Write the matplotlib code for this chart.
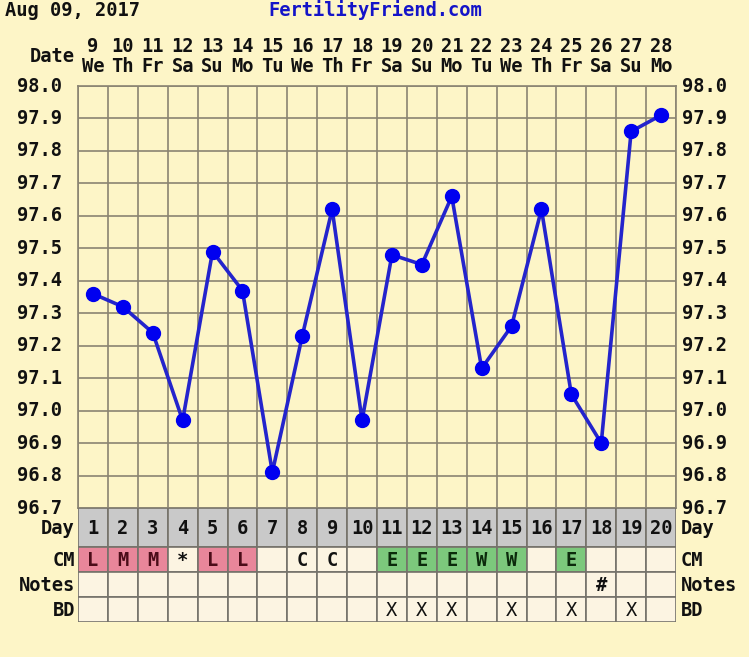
"""
Fertility chart (BBT) recreation: temperature curve plus Day / CM / Notes / BD table.
Saves out.png (749x657).
"""

import numpy as np
import matplotlib.pyplot as plt
from matplotlib.transforms import blended_transform_factory

# ---- data ----
date_nums = [9, 10, 11, 12, 13, 14, 15, 16, 17, 18,
             19, 20, 21, 22, 23, 24, 25, 26, 27, 28]
weekdays = ['We', 'Th', 'Fr', 'Sa', 'Su', 'Mo', 'Tu', 'We', 'Th', 'Fr',
            'Sa', 'Su', 'Mo', 'Tu', 'We', 'Th', 'Fr', 'Sa', 'Su', 'Mo']
cycle_days = list(range(1, 21))
temps = [97.36, 97.32, 97.24, 96.97, 97.49, 97.37, 96.81, 97.23, 97.62, 96.97,
         97.48, 97.45, 97.66, 97.13, 97.26, 97.62, 97.05, 96.90, 97.86, 97.91]
cm_marks = ['L', 'M', 'M', '*', 'L', 'L', '', 'C', 'C', '',
            'E', 'E', 'E', 'W', 'W', '', 'E', '', '', '']
notes = [''] * 17 + ['#', '', '']
bd = ['', '', '', '', '', '', '', '', '', '',
      'X', 'X', 'X', '', 'X', '', 'X', '', 'X', '']
temp_ticks = [96.7, 96.8, 96.9, 97.0, 97.1, 97.2, 97.3, 97.4, 97.5,
              97.6, 97.7, 97.8, 97.9, 98.0]
row_names = ['Day', 'CM', 'Notes', 'BD']

# ---- style ----
W, H = 749, 657
BG = '#fdf5c7'
CELL = '#fcf4e2'
GRAY_ROW = '#c9c9c9'
PINK = '#e8869a'
GREEN = '#7cc87c'
GRID = '#8a8472'
BORDER = '#75726a'
FONT = 'DejaVu Sans Mono'
FS = 13.5

# pixel layout
gx0, gx1 = 78, 676          # grid left / right
gy0, gy1 = 86, 508          # grid top / bottom
row_edges = [508, 547, 572, 597, 622]

plt.rcParams['font.family'] = FONT
plt.rcParams['font.weight'] = 'bold'
plt.rcParams['font.size'] = FS

fig = plt.figure(figsize=(W / 100, H / 100), dpi=100, facecolor=BG)

# full-figure canvas in pixel units for free text
canvas = fig.add_axes([0, 0, 1, 1])
canvas.set_xlim(0, W)
canvas.set_ylim(H, 0)
canvas.axis('off')

# temperature chart
ax = fig.add_axes([gx0 / W, 1 - gy1 / H, (gx1 - gx0) / W, (gy1 - gy0) / H])
ax.set_facecolor(BG)
ax.set_xlim(0.5, 20.5)
ax.set_ylim(96.7, 98.0)
ax.set_xticks(np.arange(0.5, 21, 1))
ax.set_yticks(temp_ticks)
ax.tick_params(length=0, labelleft=False, labelbottom=False)
ax.grid(True, color=GRID, lw=1.2)
for s in ax.spines.values():
    s.set_color(GRID)
    s.set_linewidth(1.2)
ax.plot(cycle_days, temps, color='#2424cc', lw=2.6, zorder=3)
ax.plot(cycle_days, temps, 'o', color='#0000f0', ms=10, zorder=4)

# table below the chart (y in pixels relative to table top)
tab_top, tab_bot = row_edges[0], row_edges[-1]
tab = fig.add_axes([gx0 / W, 1 - tab_bot / H, (gx1 - gx0) / W, (tab_bot - tab_top) / H])
tab.set_xlim(0.5, 20.5)
tab.set_ylim(tab_bot - tab_top, 0)
tab.axis('off')

rel = [e - tab_top for e in row_edges]
heights = [rel[i + 1] - rel[i] for i in range(4)]
centers = [(rel[i] + rel[i + 1]) / 2 for i in range(4)]

cm_colors = []
for m in cm_marks:
    if m in ('L', 'M'):
        cm_colors.append(PINK)
    elif m in ('E', 'W'):
        cm_colors.append(GREEN)
    else:
        cm_colors.append(CELL)

row_fill = [[GRAY_ROW] * 20, cm_colors, [CELL] * 20, [CELL] * 20]
for r in range(4):
    tab.bar(cycle_days, heights[r], bottom=rel[r], width=1.0,
            color=row_fill[r], edgecolor=BORDER, linewidth=1.2)

for i, d in enumerate(cycle_days):
    tab.text(d, centers[0] + 1, str(d), ha='center', va='center', color='#111111')
    if cm_marks[i]:
        c = '#4a0c18' if cm_marks[i] in ('L', 'M') else '#0c2a0c'
        if cm_marks[i] in ('C', '*'):
            c = '#111111'
        tab.text(d, centers[1] + 1, cm_marks[i], ha='center', va='center', color=c)
    if notes[i]:
        tab.text(d, centers[2] + 1, notes[i], ha='center', va='center', color='#111111')
    if bd[i]:
        tab.text(d, centers[3] + 1, bd[i], ha='center', va='center',
                 color='#111111', fontweight='normal')

# row names on both sides
for r, name in enumerate(row_names):
    yc = (row_edges[r] + row_edges[r + 1]) / 2 + 1
    canvas.text(75, yc, name, ha='right', va='center', color='#111111')
    canvas.text(681, yc, name, ha='left', va='center', color='#111111')

# temperature labels on both sides
yl = blended_transform_factory(canvas.transData, ax.transData)
for t in temp_ticks:
    canvas.text(62, t, f'{t:.1f}', transform=yl, ha='right', va='center', color='#111111')
    canvas.text(682, t, f'{t:.1f}', transform=yl, ha='left', va='center', color='#111111')

# dates and weekdays above the grid
xl = blended_transform_factory(ax.transData, canvas.transData)
for d, n, wd in zip(cycle_days, date_nums, weekdays):
    canvas.text(d, 47, str(n), transform=xl, ha='center', va='center', color='#111111')
    canvas.text(d, 67, wd, transform=xl, ha='center', va='center', color='#111111')
canvas.text(75, 57, 'Date', ha='right', va='center', color='#111111')

# header
canvas.text(5, 10, 'Aug 09, 2017', ha='left', va='center', color='#111111')
canvas.text(375, 10, 'FertilityFriend.com', ha='center', va='center', color='#1414c8')

fig.savefig('out.png', dpi=100, facecolor=BG)
plt.close(fig)
